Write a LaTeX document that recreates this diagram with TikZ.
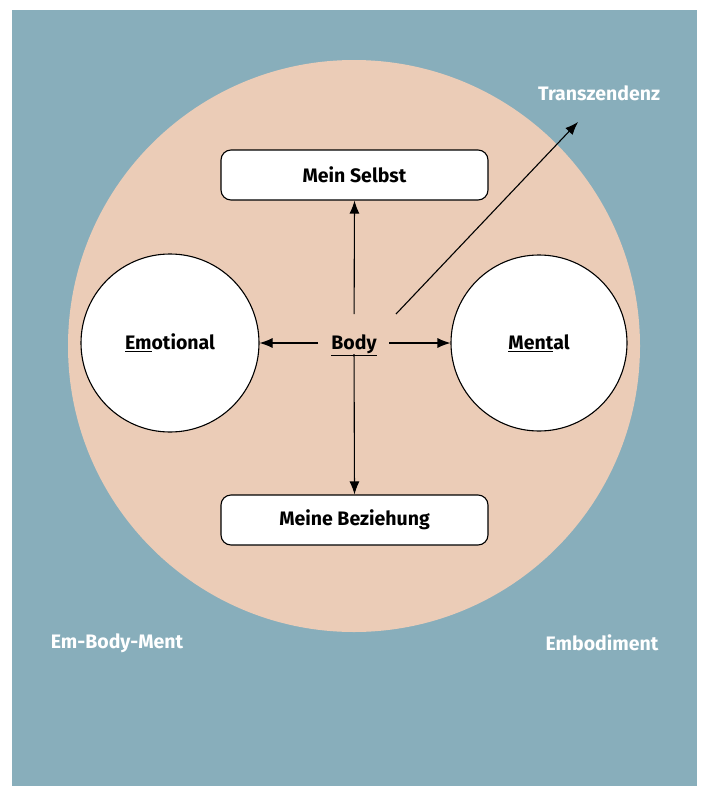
\documentclass[tikz,border=0pt]{standalone}
\usepackage{fontspec}
\setmainfont{Fira Sans}
\usetikzlibrary{arrows.meta}
\definecolor{bgteal}{HTML}{88AEBB}
\definecolor{bodypeach}{HTML}{EBCCB7}
\begin{document}
\begin{tikzpicture}[x=1pt, y=-1pt, >={Latex[length=13pt,width=10pt]},
  lab/.style={font=\fontsize{19.5}{22}\selectfont\bfseries},
  whitelab/.style={lab, text=white},
  box/.style={lab, draw, fill=white, line width=1.1pt, rounded corners=10pt,
    minimum width=267pt, minimum height=50pt},
  ball/.style={lab, circle, draw, fill=white, line width=1.1pt}]
 \useasboundingbox (0,0) rectangle (704,787);
 % background and body
 \fill[bgteal] (12,10) rectangle (697,786);
 \fill[bodypeach] (354,346) circle (286);
 % nodes
 \node[box] (selbst) at (354.5,175) {Mein Selbst};
 \node[box] (beziehung) at (354.5,520) {Meine Beziehung};
 \node[ball, minimum size=178pt] (emotional) at (170,343) {\underline{Em}otional};
 \node[ball, minimum size=176pt] (mental) at (539,343) {\underline{Ment}al};
 \node[lab, inner sep=0pt, text height=17pt, text depth=4pt] (body) at (354,343) {\underline{Body}};
 \coordinate (tz) at (578,122);
 \node[whitelab] (transzendenz) at (599,93) {Transzendenz};
 \node[whitelab] (embodyment) at (117,643) {Em-Body-Ment};
 \node[whitelab] (embodiment) at (602,643) {Embodiment};
 % arrows
 \draw[->, line width=1.1pt, shorten <=29pt] (body.center) -- (selbst.south);
 \draw[->, line width=1.1pt, shorten <=11pt] (body.center) -- (beziehung.north);
 \draw[->, line width=1.1pt, shorten <=36pt] (body.center) -- (emotional.east);
 \draw[->, line width=1.1pt, shorten <=35pt] (body.center) -- (mental.west);
 \draw[->, line width=1.1pt] ([shift={(42,-29)}]body.center) -- (tz);
\end{tikzpicture}
\end{document}
